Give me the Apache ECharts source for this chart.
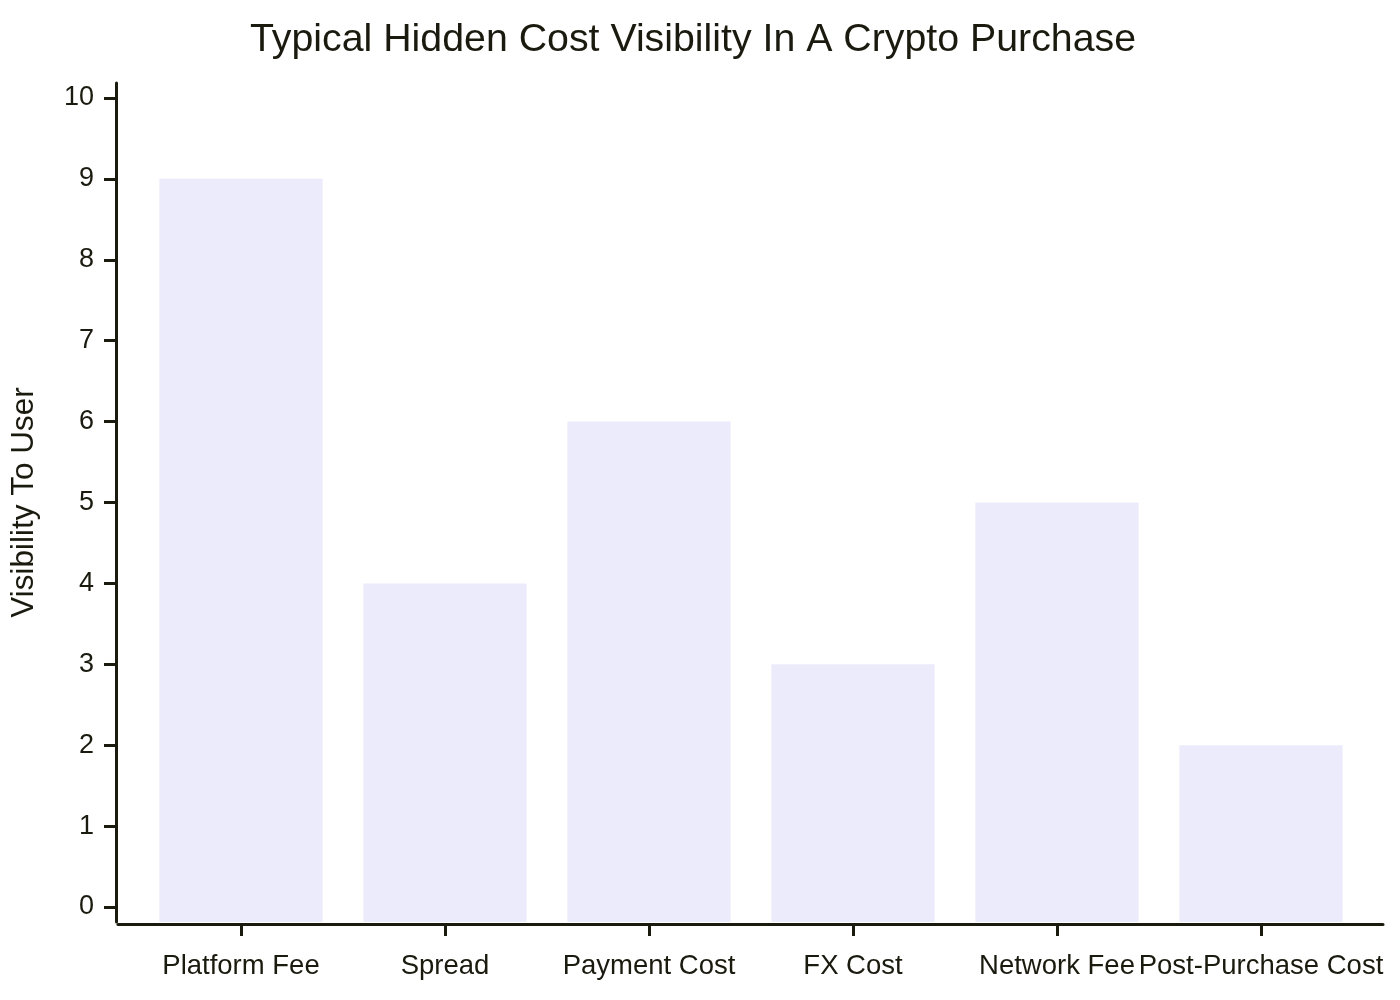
<!DOCTYPE html>
<html>
<head>
<meta charset="utf-8">
<title>Typical Hidden Cost Visibility In A Crypto Purchase</title>
<script src="https://cdn.jsdelivr.net/npm/echarts@6/dist/echarts.min.js"></script>
<style>
  html, body { margin: 0; padding: 0; background: #fff; }
  #container { width: 1400px; height: 1000px; }
</style>
</head>
<body>
<div id="container"></div>
<script>
// data
var categories = ['Platform Fee', 'Spread', 'Payment Cost', 'FX Cost', 'Network Fee', 'Post-Purchase Cost'];
var visibility = [9, 4, 6, 3, 5, 2];
var yTicks = [0, 1, 2, 3, 4, 5, 6, 7, 8, 9, 10];

var ink = '#1a1a0f';
var font = 'Liberation Sans, Arial, sans-serif';

var dom = document.getElementById('container');
var myChart = echarts.init(dom, null, { renderer: 'canvas' });

var option = {
  backgroundColor: '#ffffff',
  animation: false,
  title: {
    text: 'Typical Hidden Cost Visibility In A Crypto Purchase',
    left: 688,
    top: 16,
    textAlign: 'center',
    textStyle: { fontFamily: font, fontSize: 39.3, fontWeight: 'normal', color: ink }
  },
  grid: [
    // bars
    { left: 139, right: 37, top: 83, bottom: 78 },
    // only for the long x axis line
    { left: 118, right: 17, top: 83, bottom: 78 }
  ],
  xAxis: [
    {
      type: 'category',
      gridIndex: 0,
      data: categories,
      offset: 2,
      axisLine: { show: false, onZero: false },
      axisTick: { show: true, alignWithLabel: true, length: 12, lineStyle: { color: ink, width: 3 } },
      axisLabel: { margin: 28, fontFamily: font, fontSize: 27.5, color: ink, interval: 0 },
      splitLine: { show: false }
    },
    {
      type: 'value',
      gridIndex: 1,
      min: 0,
      max: 1,
      offset: 2,
      axisLine: { show: true, onZero: false, lineStyle: { color: ink, width: 3 } },
      axisTick: { show: false },
      axisLabel: { show: false },
      splitLine: { show: false }
    }
  ],
  yAxis: [
    {
      type: 'value',
      gridIndex: 0,
      min: -0.185,
      max: 10.185,
      startValue: -0.185,
      offset: 23,
      name: 'Visibility To User',
      nameLocation: 'middle',
      nameRotate: 90,
      nameGap: 76,
      nameTextStyle: { fontFamily: font, fontSize: 31.5, color: ink },
      axisLine: { show: true, onZero: false, lineStyle: { color: ink, width: 3 } },
      axisTick: { show: true, length: 12, customValues: yTicks, lineStyle: { color: ink, width: 3 } },
      axisLabel: { margin: 22, customValues: yTicks, fontFamily: font, fontSize: 27, color: ink },
      splitLine: { show: false }
    },
    {
      type: 'value',
      gridIndex: 1,
      show: false,
      min: 0,
      max: 1
    }
  ],
  series: [
    {
      name: 'Visibility To User',
      type: 'bar',
      xAxisIndex: 0,
      yAxisIndex: 0,
      data: visibility,
      barCategoryGap: '20%',
      itemStyle: { color: '#ecebfc' }
    }
  ]
};

if (option && typeof option === 'object') {
  myChart.setOption(option, true);
}
</script>
</body>
</html>
